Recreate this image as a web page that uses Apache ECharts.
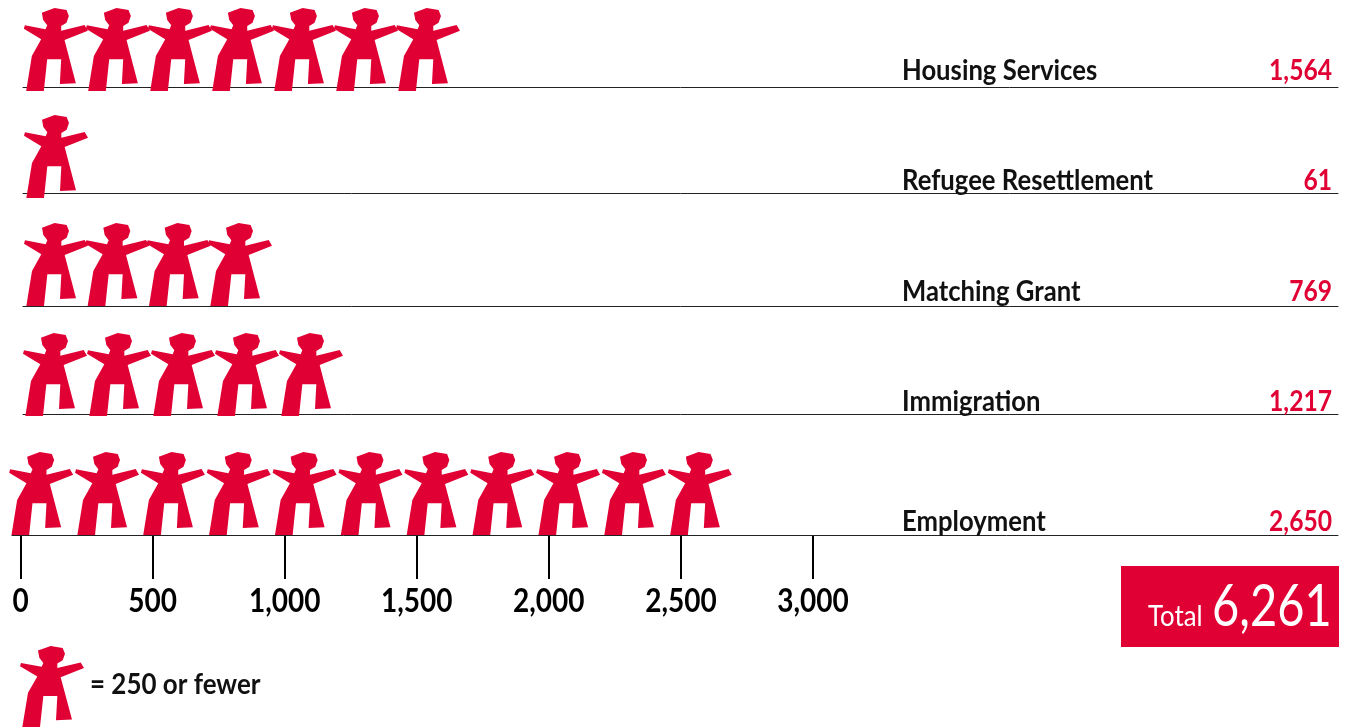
<!DOCTYPE html>
<html>
<head>
<meta charset="utf-8">
<style>
  html, body { margin: 0; padding: 0; background: #fff; }
  #chart { width: 1348px; height: 727px; }
</style>
<script src="https://cdn.jsdelivr.net/npm/echarts@6/dist/echarts.min.js"></script>
</head>
<body>
<div id="chart"></div>
<script>
const programs = ["Housing Services", "Refugee Resettlement", "Matching Grant", "Immigration", "Employment"];
const clients = [1564, 61, 769, 1217, 2650];
const iconCounts = [7, 1, 4, 5, 11];
const axisTicks = [0, 500, 1000, 1500, 2000, 2500, 3000];
const total = "6,261";

const RED = "#e00034";
const FONT = "Lato";
// one figure; the path gets stretched to symbolSize by echarts
const PERSON = "path://M84,50 L122,36 L158,42 L165,60 L158,80 L142,90 L142,104 L212,87 L222,104 L152,132 L186,262 L138,264 L142,190 L100,190 L90,285 L37,285 L54,180 L82,130 L30,98 L33,88 L95,100 L100,88 L88,72 Z";

// layout per row: rule y, rule start, first icon x, icon pitch, feet below rule, text baseline
const ruleY = [87, 193, 306, 414, 535];
const ruleLeft = [23, 23, 23, 23, 12];
const iconLeft = [23, 23, 23, 23, 10];
const pitch = [62.3, 62, 62, 64, 65.7];
const drop = [4, 5, 0, 2, 0];
const baseY = [81, 191, 302, 412, 532];
const RULE_RIGHT = 1338, GRID_H = 60;
const ICON_W = 64, ICON_H = 83;
const fmt = (v) => v.toLocaleString("en-US");

// text is squeezed with scaleX, none of the installed fonts is condensed
function label(text, x, baseline, size, weight, fill, align, scaleX) {
  return {
    type: "text", x: x, y: baseline - size * 0.86, scaleX: scaleX, z: 10,
    style: { text: text, font: weight + " " + size + "px " + FONT, fill: fill, align: align }
  };
}

const grids = [], xAxes = [], yAxes = [], series = [], texts = [];

programs.forEach((name, i) => {
  const width = RULE_RIGHT - ruleLeft[i];
  grids.push({ left: ruleLeft[i], top: ruleY[i] - GRID_H, width: width, height: GRID_H });
  xAxes.push({
    gridIndex: i, type: "value", min: 0, max: width / pitch[i] * 250, position: "bottom",
    axisLine: { show: true, onZero: false, lineStyle: { color: "#222", width: 1 } },
    axisTick: { show: false }, axisLabel: { show: false }, splitLine: { show: false }
  });
  yAxes.push({ gridIndex: i, type: "category", data: [name], show: false });
  series.push({
    type: "pictorialBar", xAxisIndex: i, yAxisIndex: i, z: 5,
    symbol: PERSON,
    symbolSize: [ICON_W, ICON_H],
    symbolRepeat: iconCounts[i],
    symbolMargin: 0,
    symbolMarginAtEnds: true,
    symbolPosition: "start",
    symbolBoundingData: iconCounts[i] * 250,
    symbolOffset: [iconLeft[i] - ruleLeft[i] - (pitch[i] - ICON_W) / 2, GRID_H / 2 - ICON_H / 2 + drop[i]],
    itemStyle: { color: RED },
    data: [iconCounts[i] * 250]
  });
  texts.push(label(name, 902, baseY[i], 29, "bold", "#111", "left", 0.885));
  texts.push(label(fmt(clients[i]), 1332, baseY[i], 28, "bold", RED, "right", 0.88));
});

// shared scale under the last row
grids.push({ left: 20.5, top: 535, width: 792.5, height: 1 });
xAxes.push({
  gridIndex: 5, type: "value", min: 0, max: axisTicks[axisTicks.length - 1], interval: 500,
  axisLine: { show: false },
  axisTick: { show: true, length: 43, lineStyle: { color: "#000", width: 2 } },
  axisLabel: { show: false },
  splitLine: { show: false }
});
yAxes.push({ gridIndex: 5, type: "value", show: false });

// key figure, same symbol on its own small grid
grids.push({ left: 20, top: 646, width: ICON_W, height: 81 });
xAxes.push({ gridIndex: 6, type: "value", min: 0, max: 250, show: false });
yAxes.push({ gridIndex: 6, type: "category", data: ["key"], show: false });
series.push({
  type: "pictorialBar", xAxisIndex: 6, yAxisIndex: 6,
  symbol: PERSON, symbolSize: [ICON_W, 81], symbolPosition: "start",
  itemStyle: { color: RED }, data: [250]
});

const chart = echarts.init(document.getElementById("chart"));
chart.setOption({
  animation: false,
  backgroundColor: "#fff",
  grid: grids,
  xAxis: xAxes,
  yAxis: yAxes,
  series: series
});

// tick labels need the squeeze too, so they go through the axis scale by hand
axisTicks.forEach((t) => {
  const x = chart.convertToPixel({ xAxisIndex: 5 }, t);
  texts.push(label(fmt(t), x, 613, 32, "bold", "#000", "center", 0.875));
});

chart.setOption({
  graphic: texts.concat([
    { type: "rect", x: 1121, y: 566, shape: { width: 218, height: 81 }, style: { fill: RED } },
    label("Total", 1148, 627, 28, "normal", "#fff", "left", 0.92),
    label(total, 1212, 628, 58, "normal", "#fff", "left", 0.81),
    label("= 250 or fewer", 90, 695, 29, "bold", "#111", "left", 0.895)
  ])
});
</script>
</body>
</html>
